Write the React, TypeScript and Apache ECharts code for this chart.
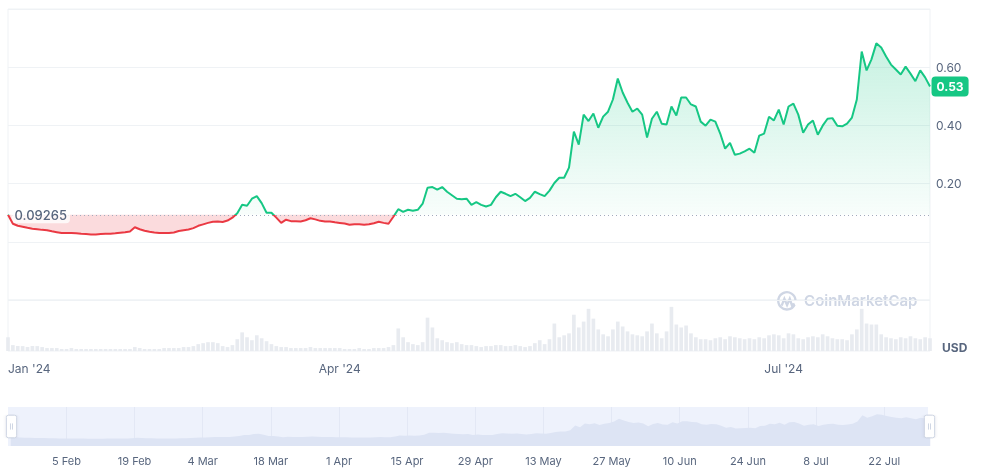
import React, { useEffect, useRef } from 'react';
import * as echarts from 'echarts';

// ---------- data ----------
const startDateUtc = [2024, 0, 24];
const baselinePrice = 0.09265;

const priceUsd = [
  0.0927, 0.062, 0.055, 0.052, 0.048, 0.045, 0.043, 0.041, 0.040, 0.036,
  0.033, 0.030, 0.030, 0.030, 0.029, 0.0275, 0.0265, 0.025, 0.025, 0.0265,
  0.0275, 0.0275, 0.029, 0.031, 0.033, 0.0355, 0.050, 0.043, 0.038, 0.0345,
  0.032, 0.030, 0.030, 0.030, 0.032, 0.037, 0.040, 0.042, 0.047, 0.055,
  0.060, 0.065, 0.069, 0.070, 0.068, 0.073, 0.083, 0.098, 0.127, 0.124,
  0.148, 0.157, 0.133, 0.100, 0.100, 0.083, 0.065, 0.076, 0.071, 0.071,
  0.070, 0.074, 0.081, 0.077, 0.072, 0.070, 0.070, 0.067, 0.065, 0.063,
  0.0585, 0.060, 0.060, 0.0585, 0.060, 0.064, 0.069, 0.065, 0.062, 0.086,
  0.112, 0.103, 0.110, 0.107, 0.110, 0.131, 0.186, 0.188, 0.179, 0.188,
  0.172, 0.160, 0.148, 0.146, 0.148, 0.127, 0.136, 0.127, 0.1215, 0.127,
  0.153, 0.172, 0.165, 0.157, 0.165, 0.153, 0.140, 0.151, 0.172, 0.164,
  0.157, 0.176, 0.202, 0.220, 0.220, 0.255, 0.379, 0.334, 0.437, 0.415,
  0.441, 0.392, 0.430, 0.447, 0.489, 0.561, 0.513, 0.478, 0.447, 0.458,
  0.437, 0.358, 0.423, 0.447, 0.406, 0.403, 0.465, 0.434, 0.496, 0.496,
  0.472, 0.465, 0.413, 0.399, 0.420, 0.413, 0.372, 0.320, 0.340, 0.299,
  0.303, 0.311, 0.320, 0.306, 0.365, 0.372, 0.430, 0.417, 0.454, 0.403,
  0.465, 0.475, 0.437, 0.375, 0.403, 0.417, 0.368, 0.399, 0.423, 0.425,
  0.399, 0.397, 0.406, 0.427, 0.489, 0.654, 0.589, 0.627, 0.682, 0.668,
  0.637, 0.609, 0.592, 0.575, 0.602, 0.578, 0.552, 0.589, 0.565, 0.534,
];

const volumeUsdM = [
  14, 6, 5, 5, 4, 5, 5, 4, 3, 3,
  3, 2, 2, 3, 2, 2, 2, 2, 2, 2,
  2, 2, 2, 2, 2, 2, 4, 3, 2, 2,
  2, 2, 3, 3, 3, 3, 4, 4, 5, 7,
  8, 9, 9, 8, 5, 4, 6, 12, 19, 14,
  11, 16, 13, 10, 7, 5, 4, 4, 3, 3,
  3, 3, 4, 3, 3, 3, 3, 3, 3, 2,
  2, 2, 3, 2, 2, 3, 3, 3, 4, 6,
  23, 14, 9, 7, 6, 9, 34, 24, 13, 11,
  9, 8, 9, 7, 6, 6, 5, 4, 5, 5,
  6, 6, 5, 5, 6, 5, 4, 5, 8, 11,
  7, 12, 28, 14, 16, 18, 37, 24, 30, 43,
  33, 22, 17, 15, 22, 30, 25, 20, 17, 16,
  15, 20, 28, 18, 13, 20, 45, 27, 24, 26,
  18, 14, 12, 12, 11, 13, 14, 12, 15, 14,
  13, 12, 13, 12, 14, 13, 16, 17, 16, 13,
  18, 17, 13, 12, 14, 15, 14, 17, 15, 13,
  12, 12, 11, 17, 22, 43, 28, 27, 27, 17,
  14, 13, 12, 14, 13, 15, 13, 12, 14, 13,
];

const priceTickLabels = [0.2, 0.4, 0.6];
const mainAxisDates = ['2024-01-24', '2024-04-01', '2024-07-01'];
const mainAxisTexts = ["Jan '24", "Apr '24", "Jul '24"];
const navDates = [
  '2024-02-05', '2024-02-19', '2024-03-04', '2024-03-18', '2024-04-01', '2024-04-15', '2024-04-29',
  '2024-05-13', '2024-05-27', '2024-06-10', '2024-06-24', '2024-07-08', '2024-07-22',
];
const navTexts = [
  '5 Feb', '19 Feb', '4 Mar', '18 Mar', '1 Apr', '15 Apr', '29 Apr',
  '13 May', '27 May', '10 Jun', '24 Jun', '8 Jul', '22 Jul',
];

// ---------- helpers ----------
function buildDates(n: number): string[] {
  const t0 = Date.UTC(startDateUtc[0], startDateUtc[1], startDateUtc[2]);
  const out: string[] = [];
  for (let i = 0; i < n; i++) out.push(new Date(t0 + i * 86400000).toISOString().slice(0, 10));
  return out;
}

const LOGO_D =
  'M20.6,15.2 A9.6,9.6 0 1 1 21.6,10.6 M6.2,16.2 L9.2,8.6 L12.2,15.6 L15.2,8.6 L17.6,15.8 L20.6,14.2';

let logoRegistered = false;
function registerLogo() {
  if (logoRegistered) return;
  echarts.graphic.registerShape('cmcLogo', echarts.graphic.extendPath(LOGO_D, {}));
  logoRegistered = true;
}

function buildOption() {
  const dates = buildDates(priceUsd.length);
  const last = priceUsd.length - 1;
  const mainMap: Record<string, string> = {};
  mainAxisDates.forEach((d, i) => (mainMap[d] = mainAxisTexts[i]));
  const navMap: Record<string, string> = {};
  navDates.forEach((d, i) => (navMap[d] = navTexts[i]));

  const font = 'Inter, "Noto Sans", sans-serif';
  const grey = '#58667e';
  const gridLine = '#eff2f5';

  return {
    animation: false,
    textStyle: { fontFamily: font },
    grid: [
      { left: 8, right: 65, top: 9, height: 291, show: true, borderColor: gridLine, borderWidth: 1, outerBoundsMode: 'none' },
      { left: 8, right: 65, top: 300, height: 51, show: true, borderColor: gridLine, borderWidth: 1, outerBoundsMode: 'none' },
      { left: 8, right: 67, top: 407, height: 39, show: true, borderWidth: 0, backgroundColor: '#eef2fc', outerBoundsMode: 'none' },
    ],
    xAxis: [
      { type: 'category', gridIndex: 0, data: dates, boundaryGap: false, show: false },
      {
        type: 'category', gridIndex: 1, data: dates, boundaryGap: false,
        axisLine: { show: false }, axisTick: { show: false }, splitLine: { show: false },
        axisLabel: {
          interval: (_i: number, v: string) => mainMap[v] !== undefined,
          formatter: (v: string) => mainMap[v] ?? '',
          color: grey, fontSize: 12, margin: 11, alignMinLabel: 'left',
        },
      },
      {
        type: 'category', gridIndex: 2, data: dates, boundaryGap: false,
        axisLine: { show: false }, axisTick: { show: false },
        splitLine: { show: true, interval: (_i: number, v: string) => navMap[v] !== undefined, lineStyle: { color: '#e3e8f5' } },
        axisLabel: {
          interval: (_i: number, v: string) => navMap[v] !== undefined,
          formatter: (v: string) => navMap[v] ?? '',
          color: grey, fontSize: 11, margin: 9,
        },
      },
    ],
    yAxis: [
      {
        type: 'value', gridIndex: 0, position: 'right', min: -0.2, max: 0.8, interval: 0.2,
        axisLine: { show: false }, axisTick: { show: false },
        splitLine: { lineStyle: { color: gridLine } },
        axisLabel: {
          color: grey, fontSize: 12, margin: 6,
          formatter: (v: number) => (priceTickLabels.some((t) => Math.abs(t - v) < 1e-9) ? v.toFixed(2) : ''),
        },
      },
      { type: 'value', gridIndex: 1, min: 0, max: 52, show: false },
      { type: 'value', gridIndex: 2, show: false },
    ],
    visualMap: {
      show: false, type: 'piecewise', seriesIndex: 0, dimension: 1,
      pieces: [
        { gte: -1, lt: baselinePrice, color: '#ea3943' },
        { gte: baselinePrice, lte: 5, color: '#16c784' },
      ],
      outOfRange: { color: '#16c784' },
    },
    series: [
      {
        type: 'line', name: 'Price', xAxisIndex: 0, yAxisIndex: 0, data: priceUsd,
        showSymbol: false, lineStyle: { width: 2 }, z: 5, silent: true,
        markLine: {
          symbol: 'none', silent: true, label: { show: false },
          lineStyle: { color: '#a3abbd', type: [1, 3], width: 1 },
          data: [{ yAxis: baselinePrice }],
        },
        markPoint: {
          silent: true, symbol: 'circle', symbolSize: 1,
          itemStyle: { color: 'rgba(0,0,0,0)' },
          data: [
            {
              coord: [0, baselinePrice], value: baselinePrice,
              label: {
                show: true, position: 'right', distance: 3, formatter: String(baselinePrice),
                color: grey, fontSize: 13, fontWeight: 500,
                backgroundColor: 'rgba(255,255,255,0.8)', padding: [2, 3], borderRadius: 4,
              },
            },
            {
              coord: [last, priceUsd[last]], value: priceUsd[last],
              label: {
                show: true, position: 'right', distance: 1, formatter: priceUsd[last].toFixed(2),
                color: '#fff', fontSize: 12, fontWeight: 'bold',
                backgroundColor: '#16c784', padding: [4, 5], borderRadius: 4,
              },
            },
          ],
        },
      },
      {
        type: 'line', name: 'Above', xAxisIndex: 0, yAxisIndex: 0,
        data: priceUsd.map((v) => Math.max(v, baselinePrice)),
        showSymbol: false, silent: true, z: 2, lineStyle: { width: 0, opacity: 0 },
        areaStyle: {
          origin: baselinePrice,
          color: new echarts.graphic.LinearGradient(0, 0, 0, 1, [
            { offset: 0, color: 'rgba(22,199,132,0.34)' },
            { offset: 1, color: 'rgba(22,199,132,0.04)' },
          ]),
        },
      },
      {
        type: 'line', name: 'Below', xAxisIndex: 0, yAxisIndex: 0,
        data: priceUsd.map((v) => Math.min(v, baselinePrice)),
        showSymbol: false, silent: true, z: 2, lineStyle: { width: 0, opacity: 0 },
        areaStyle: { origin: baselinePrice, color: 'rgba(234,57,67,0.26)' },
      },
      {
        type: 'bar', name: 'Volume', xAxisIndex: 1, yAxisIndex: 1, data: volumeUsdM,
        silent: true, barCategoryGap: '25%', itemStyle: { color: '#e8ebf0' },
      },
    ],
    dataZoom: [
      {
        type: 'slider', xAxisIndex: [0, 1], start: 0, end: 100,
        left: 8, right: 67, top: 407, height: 39,
        backgroundColor: 'rgba(0,0,0,0)', borderColor: 'rgba(0,0,0,0)', fillerColor: 'rgba(0,0,0,0)',
        showDetail: false, brushSelect: false,
        handleIcon: 'path://M2,0H8A2,2,0,0,1,10,2V20A2,2,0,0,1,8,22H2A2,2,0,0,1,0,20V2A2,2,0,0,1,2,0Z M4,8V14 M6,8V14',
        handleSize: '58%',
        handleStyle: { color: '#ffffff', borderColor: '#cfd6e4', borderWidth: 1, shadowBlur: 3, shadowColor: 'rgba(88,102,126,0.18)' },
        dataBackground: { lineStyle: { opacity: 0 }, areaStyle: { color: '#dde4f4', opacity: 1 } },
        selectedDataBackground: { lineStyle: { opacity: 0 }, areaStyle: { color: '#dde4f4', opacity: 1 } },
      },
    ],
    graphic: [
      {
        type: 'text', left: 942, top: 341, z: 10,
        style: { text: 'USD', fill: grey, font: `bold 12px ${font}` },
      },
      {
        type: 'group', left: 776, top: 290, z: 0, silent: true,
        children: [
          {
            type: 'cmcLogo', x: 0, y: 0, scaleX: 0.9, scaleY: 0.9,
            style: { fill: 'none', stroke: '#cfd6e4', lineWidth: 2.6 },
          },
          {
            type: 'text', x: 28, y: 2,
            style: { text: 'CoinMarketCap', fill: '#cfd6e4', font: `600 15px ${font}` },
          },
        ],
      },
    ],
  };
}

export default function App() {
  const ref = useRef<HTMLDivElement>(null);

  useEffect(() => {
    if (!ref.current) return;
    registerLogo();
    const chart = echarts.init(ref.current, undefined, { renderer: 'svg' });
    chart.setOption(buildOption() as any);
    return () => chart.dispose();
  }, []);

  return <div ref={ref} style={{ position: 'fixed', left: 0, top: 0, width: 995, height: 470 }} />;
}
